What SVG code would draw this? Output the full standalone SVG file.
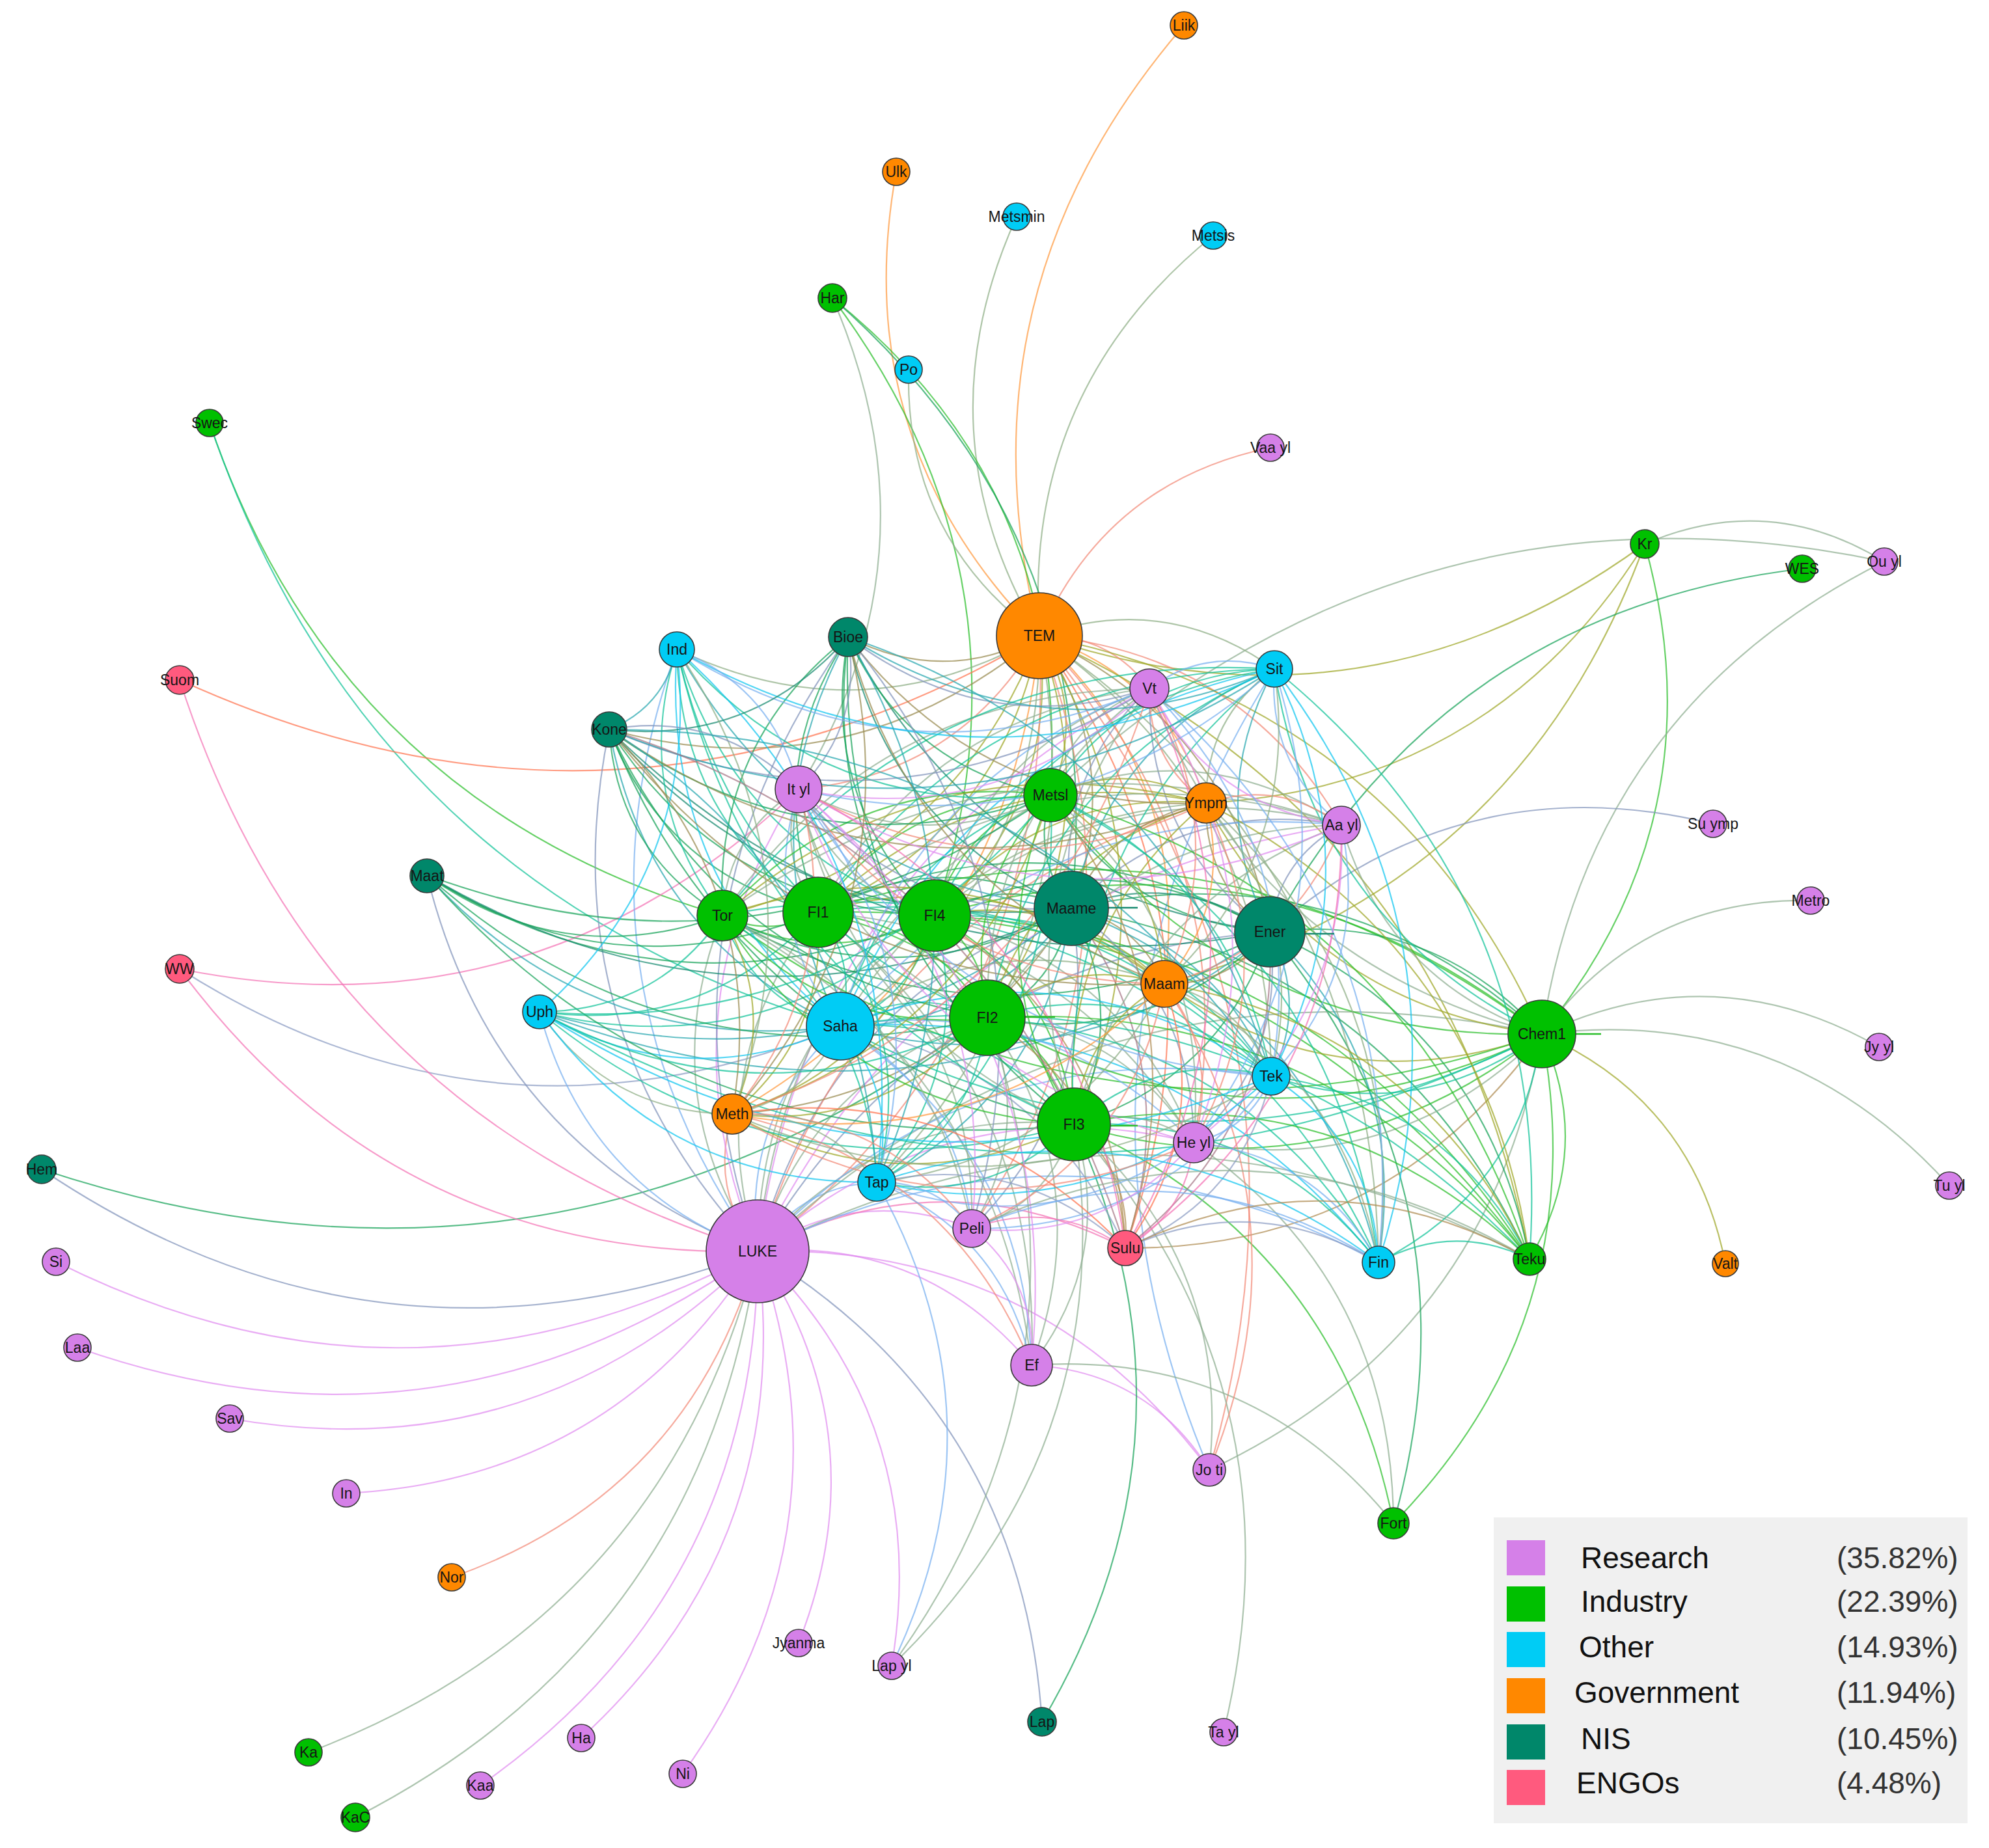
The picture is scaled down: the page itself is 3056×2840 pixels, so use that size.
<svg xmlns="http://www.w3.org/2000/svg" width="3056" height="2840" viewBox="0 0 3056 2840">
<style>
.R{fill:#d580e8}.I{fill:#00c000}.O{fill:#00ccf5}.G{fill:#ff8800}.N{fill:#00876a}.E{fill:#ff5a7e}
#nodes circle{stroke:#3a3a3a;stroke-width:1.6}
#nodes text{font-family:"Liberation Sans",Arial,sans-serif;font-size:23px;text-anchor:middle;fill:#151515}
#edges use{stroke-width:2.2;stroke-opacity:.72}
#edges line{stroke-width:2.6}
.ii{stroke:#2cbf2c}.in{stroke:#19a35a}.io{stroke:#14c49a}.ig{stroke:#9fa72a}.ir{stroke:#8fae92}.ie{stroke:#b08d55}
.nn{stroke:#178a70}.no{stroke:#2aa8b0}.ng{stroke:#9a8c52}.nr{stroke:#8294bb}.ne{stroke:#a87888}
.oo{stroke:#12c6f0}.og{stroke:#8fae86}.or{stroke:#78b0f0}.oe{stroke:#8c9cc4}
.gg{stroke:#ff9a40}.gr{stroke:#f28a78}.ge{stroke:#ff7450}
.rr{stroke:#e08ef0}.re{stroke:#f474b6}
#legend text{font-family:"Liberation Sans",Arial,sans-serif;font-size:46px}
</style>
<defs>
<path id="c" d="M0 0Q.5-.26 1 0" fill="none" vector-effect="non-scaling-stroke"/>
</defs>
<rect width="3056" height="2840" fill="#ffffff"/>
<g id="edges">
<use href="#c" class="gg" transform="matrix(222 -938 938 222 1597 977)"/>
<use href="#c" class="gg" transform="matrix(-220 -713 713 -220 1597 977)"/>
<use href="#c" class="og" transform="matrix(-35 -644 644 -35 1597 977)"/>
<use href="#c" class="og" transform="matrix(267 -615 615 267 1597 977)"/>
<use href="#c" class="ii" transform="matrix(335 764 -764 335 1279 458)"/>
<use href="#c" class="in" transform="matrix(367 938 -938 367 1279 458)"/>
<use href="#c" class="ii" transform="matrix(157 949 -949 157 1279 458)"/>
<use href="#c" class="ir" transform="matrix(-52 755 -755 -52 1279 458)"/>
<use href="#c" class="og" transform="matrix(-201 -409 409 -201 1597 977)"/>
<use href="#c" class="ii" transform="matrix(-788 -757 757 -788 1110 1407)"/>
<use href="#c" class="io" transform="matrix(-969 -927 927 -969 1291 1577)"/>
<use href="#c" class="gr" transform="matrix(355 -289 289 355 1597 977)"/>
<use href="#c" class="ig" transform="matrix(-930 141 -141 -930 2527 836)"/>
<use href="#c" class="ig" transform="matrix(-674 398 -398 -674 2527 836)"/>
<use href="#c" class="ig" transform="matrix(-738 676 -676 -738 2527 836)"/>
<use href="#c" class="ii" transform="matrix(-158 753 -753 -158 2527 836)"/>
<use href="#c" class="ir" transform="matrix(368 27 -27 368 2527 836)"/>
<use href="#c" class="ir" transform="matrix(1281 -359 359 1281 1614 1222)"/>
<use href="#c" class="ir" transform="matrix(526 -726 726 526 2369 1589)"/>
<use href="#c" class="in" transform="matrix(818 -558 558 818 1951 1432)"/>
<use href="#c" class="nr" transform="matrix(681 -166 166 681 1951 1432)"/>
<use href="#c" class="ir" transform="matrix(413 -205 205 413 2369 1589)"/>
<use href="#c" class="ir" transform="matrix(518 20 -20 518 2369 1589)"/>
<use href="#c" class="ir" transform="matrix(626 233 -233 626 2369 1589)"/>
<use href="#c" class="ig" transform="matrix(282 353 -353 282 2369 1589)"/>
<use href="#c" class="ii" transform="matrix(-19 346 -346 -19 2369 1589)"/>
<use href="#c" class="ii" transform="matrix(-228 752 -752 -228 2369 1589)"/>
<use href="#c" class="rr" transform="matrix(-1078 16 -16 -1078 1164 1923)"/>
<use href="#c" class="rr" transform="matrix(-1045 148 -148 -1045 1164 1923)"/>
<use href="#c" class="rr" transform="matrix(-811 257 -257 -811 1164 1923)"/>
<use href="#c" class="rr" transform="matrix(-632 372 -372 -632 1164 1923)"/>
<use href="#c" class="gr" transform="matrix(-470 501 -501 -470 1164 1923)"/>
<use href="#c" class="ir" transform="matrix(-690 770 -770 -690 1164 1923)"/>
<use href="#c" class="ir" transform="matrix(-618 870 -870 -618 1164 1923)"/>
<use href="#c" class="rr" transform="matrix(-426 821 -821 -426 1164 1923)"/>
<use href="#c" class="rr" transform="matrix(-271 748 -748 -271 1164 1923)"/>
<use href="#c" class="rr" transform="matrix(-115 803 -803 -115 1164 1923)"/>
<use href="#c" class="rr" transform="matrix(63 602 -602 63 1164 1923)"/>
<use href="#c" class="rr" transform="matrix(206 637 -637 206 1164 1923)"/>
<use href="#c" class="nr" transform="matrix(437 723 -723 437 1164 1923)"/>
<use href="#c" class="nr" transform="matrix(-1100 -126 126 -1100 1164 1923)"/>
<use href="#c" class="in" transform="matrix(-1453 233 -233 -1453 1517 1564)"/>
<use href="#c" class="re" transform="matrix(-888 -434 434 -888 1164 1923)"/>
<use href="#c" class="re" transform="matrix(-951 276 -276 -951 1227 1213)"/>
<use href="#c" class="oe" transform="matrix(-1015 -88 88 -1015 1291 1577)"/>
<use href="#c" class="re" transform="matrix(-888 -878 878 -888 1164 1923)"/>
<use href="#c" class="ge" transform="matrix(-1321 68 -68 -1321 1597 977)"/>
<use href="#c" class="nr" transform="matrix(-508 -578 578 -508 1164 1923)"/>
<use href="#c" class="or" transform="matrix(-335 -368 368 -335 1164 1923)"/>
<use href="#c" class="nr" transform="matrix(-228 -802 802 -228 1164 1923)"/>
<use href="#c" class="or" transform="matrix(-124 -925 925 -124 1164 1923)"/>
<use href="#c" class="og" transform="matrix(-557 21 -21 -557 1597 977)"/>
<use href="#c" class="or" transform="matrix(100 -1231 1231 100 1858 2259)"/>
<use href="#c" class="gr" transform="matrix(261 1282 -1282 261 1597 977)"/>
<use href="#c" class="ir" transform="matrix(-511 670 -670 -511 2369 1589)"/>
<use href="#c" class="rr" transform="matrix(694 336 -336 694 1164 1923)"/>
<use href="#c" class="rr" transform="matrix(273 161 -161 273 1585 2098)"/>
<use href="#c" class="ir" transform="matrix(556 243 -243 556 1585 2098)"/>
<use href="#c" class="ir" transform="matrix(230 934 -934 230 1650 1728)"/>
<use href="#c" class="in" transform="matrix(-49 918 -918 -49 1650 1728)"/>
<use href="#c" class="ir" transform="matrix(-280 832 -832 -280 1650 1728)"/>
<use href="#c" class="ir" transform="matrix(-147 996 -996 -147 1517 1564)"/>
<use href="#c" class="ii" transform="matrix(491 613 -613 491 1650 1728)"/>
<use href="#c" class="in" transform="matrix(190 909 -909 190 1951 1432)"/>
<use href="#c" class="ir" transform="matrix(307 585 -585 307 1834 1756)"/>
<use href="#c" class="ie" transform="matrix(-640 329 -329 -640 2369 1589)"/>
<use href="#c" class="ng" transform="matrix(-294 2 -2 -294 1597 977)"/>
<use href="#c" class="og" transform="matrix(361 51 -51 361 1597 977)"/>
<use href="#c" class="gr" transform="matrix(169 81 -81 169 1597 977)"/>
<use href="#c" class="ng" transform="matrix(-661 144 -144 -661 1597 977)"/>
<use href="#c" class="gr" transform="matrix(-370 236 -236 -370 1597 977)"/>
<use href="#c" class="ig" transform="matrix(17 245 -245 17 1597 977)"/>
<use href="#c" class="gg" transform="matrix(256 257 -257 256 1597 977)"/>
<use href="#c" class="gr" transform="matrix(464 291 -291 464 1597 977)"/>
<use href="#c" class="ig" transform="matrix(-487 430 -430 -487 1597 977)"/>
<use href="#c" class="ig" transform="matrix(-340 425 -425 -340 1597 977)"/>
<use href="#c" class="ig" transform="matrix(-161 430 -430 -161 1597 977)"/>
<use href="#c" class="ng" transform="matrix(49 419 -419 49 1597 977)"/>
<use href="#c" class="ng" transform="matrix(354 455 -455 354 1597 977)"/>
<use href="#c" class="gg" transform="matrix(192 535 -535 192 1597 977)"/>
<use href="#c" class="og" transform="matrix(-306 600 -600 -306 1597 977)"/>
<use href="#c" class="ig" transform="matrix(-80 587 -587 -80 1597 977)"/>
<use href="#c" class="ig" transform="matrix(772 612 -612 772 1597 977)"/>
<use href="#c" class="og" transform="matrix(356 677 -677 356 1597 977)"/>
<use href="#c" class="gg" transform="matrix(-472 735 -735 -472 1597 977)"/>
<use href="#c" class="ig" transform="matrix(53 751 -751 53 1597 977)"/>
<use href="#c" class="gr" transform="matrix(237 779 -779 237 1597 977)"/>
<use href="#c" class="og" transform="matrix(-250 840 -840 -250 1597 977)"/>
<use href="#c" class="gr" transform="matrix(-104 911 -911 -104 1597 977)"/>
<use href="#c" class="gr" transform="matrix(-433 946 -946 -433 1597 977)"/>
<use href="#c" class="ge" transform="matrix(132 941 -941 132 1597 977)"/>
<use href="#c" class="og" transform="matrix(521 963 -963 521 1597 977)"/>
<use href="#c" class="ig" transform="matrix(753 958 -958 753 1597 977)"/>
<use href="#c" class="or" transform="matrix(127 -346 346 127 1164 1923)"/>
<use href="#c" class="ir" transform="matrix(-54 -516 516 -54 1164 1923)"/>
<use href="#c" class="ir" transform="matrix(93 -521 521 93 1164 1923)"/>
<use href="#c" class="ir" transform="matrix(272 -516 516 272 1164 1923)"/>
<use href="#c" class="nr" transform="matrix(482 -527 527 482 1164 1923)"/>
<use href="#c" class="ir" transform="matrix(353 -359 359 353 1164 1923)"/>
<use href="#c" class="ir" transform="matrix(486 -195 195 486 1164 1923)"/>
<use href="#c" class="gr" transform="matrix(-39 -211 211 -39 1164 1923)"/>
<use href="#c" class="or" transform="matrix(183 -106 106 183 1164 1923)"/>
<use href="#c" class="rr" transform="matrix(329 -35 35 329 1164 1923)"/>
<use href="#c" class="re" transform="matrix(565 -5 5 565 1164 1923)"/>
<use href="#c" class="rr" transform="matrix(421 175 -175 421 1164 1923)"/>
<use href="#c" class="rr" transform="matrix(670 -167 167 670 1164 1923)"/>
<use href="#c" class="rr" transform="matrix(63 -710 710 63 1164 1923)"/>
<use href="#c" class="rr" transform="matrix(602 -865 865 602 1164 1923)"/>
<use href="#c" class="nr" transform="matrix(787 -491 491 787 1164 1923)"/>
<use href="#c" class="ir" transform="matrix(1205 -334 334 1205 1164 1923)"/>
<use href="#c" class="ir" transform="matrix(1186 12 -12 1186 1164 1923)"/>
<use href="#c" class="or" transform="matrix(789 -269 269 789 1164 1923)"/>
<use href="#c" class="nr" transform="matrix(139 -944 944 139 1164 1923)"/>
<use href="#c" class="ir" transform="matrix(450 -701 701 450 1164 1923)"/>
<use href="#c" class="gr" transform="matrix(689 -689 689 689 1164 1923)"/>
<use href="#c" class="rr" transform="matrix(897 -655 655 897 1164 1923)"/>
<use href="#c" class="or" transform="matrix(954 17 -17 954 1164 1923)"/>
<use href="#c" class="ii" transform="matrix(-147 5 -5 -147 1257 1402)"/>
<use href="#c" class="ii" transform="matrix(179 5 -5 179 1257 1402)"/>
<use href="#c" class="in" transform="matrix(389 -6 6 389 1257 1402)"/>
<use href="#c" class="in" transform="matrix(694 30 -30 694 1257 1402)"/>
<use href="#c" class="io" transform="matrix(34 175 -175 34 1257 1402)"/>
<use href="#c" class="ii" transform="matrix(260 162 -162 260 1257 1402)"/>
<use href="#c" class="ii" transform="matrix(393 326 -326 393 1257 1402)"/>
<use href="#c" class="ii" transform="matrix(1112 187 -187 1112 1257 1402)"/>
<use href="#c" class="ii" transform="matrix(357 -180 180 357 1257 1402)"/>
<use href="#c" class="ir" transform="matrix(-30 -189 189 -30 1257 1402)"/>
<use href="#c" class="in" transform="matrix(46 -423 423 46 1257 1402)"/>
<use href="#c" class="io" transform="matrix(-217 -404 404 -217 1257 1402)"/>
<use href="#c" class="in" transform="matrix(-321 -281 281 -321 1257 1402)"/>
<use href="#c" class="in" transform="matrix(-601 -57 57 -601 1257 1402)"/>
<use href="#c" class="io" transform="matrix(-428 153 -153 -428 1257 1402)"/>
<use href="#c" class="io" transform="matrix(696 252 -252 696 1257 1402)"/>
<use href="#c" class="ig" transform="matrix(532 110 -110 532 1257 1402)"/>
<use href="#c" class="ig" transform="matrix(596 -168 168 596 1257 1402)"/>
<use href="#c" class="ig" transform="matrix(-132 310 -310 -132 1257 1402)"/>
<use href="#c" class="io" transform="matrix(90 415 -415 90 1257 1402)"/>
<use href="#c" class="ir" transform="matrix(328 696 -696 328 1257 1402)"/>
<use href="#c" class="ir" transform="matrix(509 -344 344 509 1257 1402)"/>
<use href="#c" class="io" transform="matrix(701 -374 374 701 1257 1402)"/>
<use href="#c" class="ir" transform="matrix(804 -134 134 804 1257 1402)"/>
<use href="#c" class="ir" transform="matrix(577 354 -354 577 1257 1402)"/>
<use href="#c" class="ii" transform="matrix(1093 533 -533 1093 1257 1402)"/>
<use href="#c" class="ir" transform="matrix(236 486 -486 236 1257 1402)"/>
<use href="#c" class="in" transform="matrix(210 -11 11 210 1436 1407)"/>
<use href="#c" class="in" transform="matrix(515 25 -25 515 1436 1407)"/>
<use href="#c" class="io" transform="matrix(-145 170 -170 -145 1436 1407)"/>
<use href="#c" class="ii" transform="matrix(81 157 -157 81 1436 1407)"/>
<use href="#c" class="ii" transform="matrix(214 321 -321 214 1436 1407)"/>
<use href="#c" class="ii" transform="matrix(933 182 -182 933 1436 1407)"/>
<use href="#c" class="ii" transform="matrix(178 -185 185 178 1436 1407)"/>
<use href="#c" class="ii" transform="matrix(-326 0 0 -326 1436 1407)"/>
<use href="#c" class="in" transform="matrix(-133 -428 428 -133 1436 1407)"/>
<use href="#c" class="io" transform="matrix(-396 -409 409 -396 1436 1407)"/>
<use href="#c" class="in" transform="matrix(-500 -286 286 -500 1436 1407)"/>
<use href="#c" class="in" transform="matrix(-780 -62 62 -780 1436 1407)"/>
<use href="#c" class="io" transform="matrix(-607 148 -148 -607 1436 1407)"/>
<use href="#c" class="io" transform="matrix(517 247 -247 517 1436 1407)"/>
<use href="#c" class="ig" transform="matrix(353 105 -105 353 1436 1407)"/>
<use href="#c" class="ig" transform="matrix(417 -173 173 417 1436 1407)"/>
<use href="#c" class="io" transform="matrix(522 -379 379 522 1436 1407)"/>
<use href="#c" class="ir" transform="matrix(330 -349 349 330 1436 1407)"/>
<use href="#c" class="ir" transform="matrix(625 -139 139 625 1436 1407)"/>
<use href="#c" class="ir" transform="matrix(398 349 -349 398 1436 1407)"/>
<use href="#c" class="ig" transform="matrix(-311 305 -305 -311 1436 1407)"/>
<use href="#c" class="io" transform="matrix(-89 410 -410 -89 1436 1407)"/>
<use href="#c" class="ir" transform="matrix(-209 -194 194 -209 1436 1407)"/>
<use href="#c" class="ii" transform="matrix(914 528 -528 914 1436 1407)"/>
<use href="#c" class="io" transform="matrix(682 533 -533 682 1436 1407)"/>
<use href="#c" class="ie" transform="matrix(293 511 -511 293 1436 1407)"/>
<use href="#c" class="nn" transform="matrix(305 36 -36 305 1646 1396)"/>
<use href="#c" class="no" transform="matrix(-355 181 -181 -355 1646 1396)"/>
<use href="#c" class="in" transform="matrix(-129 168 -168 -129 1646 1396)"/>
<use href="#c" class="in" transform="matrix(4 332 -332 4 1646 1396)"/>
<use href="#c" class="in" transform="matrix(723 193 -193 723 1646 1396)"/>
<use href="#c" class="in" transform="matrix(-32 -174 174 -32 1646 1396)"/>
<use href="#c" class="in" transform="matrix(-536 11 -11 -536 1646 1396)"/>
<use href="#c" class="nn" transform="matrix(-343 -417 417 -343 1646 1396)"/>
<use href="#c" class="no" transform="matrix(-606 -398 398 -606 1646 1396)"/>
<use href="#c" class="nn" transform="matrix(-710 -275 275 -710 1646 1396)"/>
<use href="#c" class="nn" transform="matrix(-990 -51 51 -990 1646 1396)"/>
<use href="#c" class="no" transform="matrix(-817 159 -159 -817 1646 1396)"/>
<use href="#c" class="no" transform="matrix(307 258 -258 307 1646 1396)"/>
<use href="#c" class="ng" transform="matrix(143 116 -116 143 1646 1396)"/>
<use href="#c" class="ng" transform="matrix(207 -162 162 207 1646 1396)"/>
<use href="#c" class="no" transform="matrix(312 -368 368 312 1646 1396)"/>
<use href="#c" class="nr" transform="matrix(120 -338 338 120 1646 1396)"/>
<use href="#c" class="nr" transform="matrix(415 -128 128 415 1646 1396)"/>
<use href="#c" class="nr" transform="matrix(-419 -183 183 -419 1646 1396)"/>
<use href="#c" class="nr" transform="matrix(188 360 -360 188 1646 1396)"/>
<use href="#c" class="ng" transform="matrix(-521 316 -316 -521 1646 1396)"/>
<use href="#c" class="no" transform="matrix(-299 421 -421 -299 1646 1396)"/>
<use href="#c" class="in" transform="matrix(704 539 -539 704 1646 1396)"/>
<use href="#c" class="no" transform="matrix(472 544 -544 472 1646 1396)"/>
<use href="#c" class="ne" transform="matrix(83 522 -522 83 1646 1396)"/>
<use href="#c" class="nr" transform="matrix(-153 492 -492 -153 1646 1396)"/>
<use href="#c" class="in" transform="matrix(418 157 -157 418 1951 1432)"/>
<use href="#c" class="no" transform="matrix(2 222 -222 2 1951 1432)"/>
<use href="#c" class="no" transform="matrix(167 508 -508 167 1951 1432)"/>
<use href="#c" class="in" transform="matrix(399 503 -503 399 1951 1432)"/>
<use href="#c" class="in" transform="matrix(-434 132 -132 -434 1951 1432)"/>
<use href="#c" class="in" transform="matrix(-301 296 -296 -301 1951 1432)"/>
<use href="#c" class="no" transform="matrix(-660 145 -145 -660 1951 1432)"/>
<use href="#c" class="in" transform="matrix(-841 -25 25 -841 1951 1432)"/>
<use href="#c" class="in" transform="matrix(-337 -210 210 -337 1951 1432)"/>
<use href="#c" class="ng" transform="matrix(-98 -198 198 -98 1951 1432)"/>
<use href="#c" class="nr" transform="matrix(110 -164 164 110 1951 1432)"/>
<use href="#c" class="no" transform="matrix(7 -404 404 7 1951 1432)"/>
<use href="#c" class="nr" transform="matrix(-185 -374 374 -185 1951 1432)"/>
<use href="#c" class="ng" transform="matrix(-162 80 -80 -162 1951 1432)"/>
<use href="#c" class="nr" transform="matrix(-117 324 -324 -117 1951 1432)"/>
<use href="#c" class="nn" transform="matrix(-648 -453 453 -648 1951 1432)"/>
<use href="#c" class="nn" transform="matrix(-1015 -311 311 -1015 1951 1432)"/>
<use href="#c" class="no" transform="matrix(-1122 123 -123 -1122 1951 1432)"/>
<use href="#c" class="ne" transform="matrix(-222 486 -486 -222 1951 1432)"/>
<use href="#c" class="io" transform="matrix(-416 65 -65 -416 2369 1589)"/>
<use href="#c" class="io" transform="matrix(-251 351 -351 -251 2369 1589)"/>
<use href="#c" class="ii" transform="matrix(-852 -25 25 -852 2369 1589)"/>
<use href="#c" class="ii" transform="matrix(-719 139 -139 -719 2369 1589)"/>
<use href="#c" class="io" transform="matrix(-1078 -12 12 -1078 2369 1589)"/>
<use href="#c" class="ii" transform="matrix(-755 -367 367 -755 2369 1589)"/>
<use href="#c" class="ig" transform="matrix(-516 -355 355 -516 2369 1589)"/>
<use href="#c" class="ig" transform="matrix(-580 -77 77 -580 2369 1589)"/>
<use href="#c" class="ir" transform="matrix(-308 -321 321 -308 2369 1589)"/>
<use href="#c" class="io" transform="matrix(-411 -561 561 -411 2369 1589)"/>
<use href="#c" class="ir" transform="matrix(-535 167 -167 -535 2369 1589)"/>
<use href="#c" class="ii" transform="matrix(-1259 -182 182 -1259 2369 1589)"/>
<use href="#c" class="io" transform="matrix(-1540 -34 34 -1540 2369 1589)"/>
<use href="#c" class="ir" transform="matrix(-603 -531 531 -603 2369 1589)"/>
<use href="#c" class="io" transform="matrix(226 -13 13 226 1291 1577)"/>
<use href="#c" class="io" transform="matrix(359 151 -151 359 1291 1577)"/>
<use href="#c" class="io" transform="matrix(-181 -170 170 -181 1291 1577)"/>
<use href="#c" class="oo" transform="matrix(56 240 -240 56 1291 1577)"/>
<use href="#c" class="og" transform="matrix(-166 135 -135 -166 1291 1577)"/>
<use href="#c" class="or" transform="matrix(202 311 -311 202 1291 1577)"/>
<use href="#c" class="oo" transform="matrix(662 77 -77 662 1291 1577)"/>
<use href="#c" class="oo" transform="matrix(827 363 -363 827 1291 1577)"/>
<use href="#c" class="or" transform="matrix(543 179 -179 543 1291 1577)"/>
<use href="#c" class="og" transform="matrix(498 -65 65 498 1291 1577)"/>
<use href="#c" class="og" transform="matrix(562 -343 343 562 1291 1577)"/>
<use href="#c" class="io" transform="matrix(323 -355 355 323 1291 1577)"/>
<use href="#c" class="or" transform="matrix(-64 -364 364 -64 1291 1577)"/>
<use href="#c" class="no" transform="matrix(12 -598 598 12 1291 1577)"/>
<use href="#c" class="oo" transform="matrix(-251 -579 579 -251 1291 1577)"/>
<use href="#c" class="no" transform="matrix(-355 -456 456 -355 1291 1577)"/>
<use href="#c" class="no" transform="matrix(-635 -232 232 -635 1291 1577)"/>
<use href="#c" class="oo" transform="matrix(-462 -22 22 -462 1291 1577)"/>
<use href="#c" class="oe" transform="matrix(438 341 -341 438 1291 1577)"/>
<use href="#c" class="or" transform="matrix(294 521 -521 294 1291 1577)"/>
<use href="#c" class="io" transform="matrix(1059 358 -358 1059 1291 1577)"/>
<use href="#c" class="or" transform="matrix(770 -309 309 770 1291 1577)"/>
<use href="#c" class="or" transform="matrix(475 -519 519 475 1291 1577)"/>
<use href="#c" class="oo" transform="matrix(667 -549 549 667 1291 1577)"/>
<use href="#c" class="ii" transform="matrix(133 164 -164 133 1517 1564)"/>
<use href="#c" class="ii" transform="matrix(-407 -157 157 -407 1517 1564)"/>
<use href="#c" class="io" transform="matrix(-170 253 -253 -170 1517 1564)"/>
<use href="#c" class="ig" transform="matrix(-392 148 -148 -392 1517 1564)"/>
<use href="#c" class="ir" transform="matrix(-24 324 -324 -24 1517 1564)"/>
<use href="#c" class="io" transform="matrix(436 90 -90 436 1517 1564)"/>
<use href="#c" class="io" transform="matrix(601 376 -376 601 1517 1564)"/>
<use href="#c" class="ir" transform="matrix(317 192 -192 317 1517 1564)"/>
<use href="#c" class="ig" transform="matrix(272 -52 52 272 1517 1564)"/>
<use href="#c" class="ig" transform="matrix(336 -330 330 336 1517 1564)"/>
<use href="#c" class="ii" transform="matrix(97 -342 342 97 1517 1564)"/>
<use href="#c" class="ir" transform="matrix(-290 -351 351 -290 1517 1564)"/>
<use href="#c" class="in" transform="matrix(-214 -585 585 -214 1517 1564)"/>
<use href="#c" class="io" transform="matrix(-477 -566 566 -477 1517 1564)"/>
<use href="#c" class="in" transform="matrix(-581 -443 443 -581 1517 1564)"/>
<use href="#c" class="in" transform="matrix(-861 -219 219 -861 1517 1564)"/>
<use href="#c" class="io" transform="matrix(-688 -9 9 -688 1517 1564)"/>
<use href="#c" class="ie" transform="matrix(212 354 -354 212 1517 1564)"/>
<use href="#c" class="ir" transform="matrix(68 534 -534 68 1517 1564)"/>
<use href="#c" class="ii" transform="matrix(833 371 -371 833 1517 1564)"/>
<use href="#c" class="io" transform="matrix(441 -536 536 441 1517 1564)"/>
<use href="#c" class="ir" transform="matrix(249 -506 506 249 1517 1564)"/>
<use href="#c" class="ir" transform="matrix(544 -296 296 544 1517 1564)"/>
<use href="#c" class="ii" transform="matrix(-540 -321 321 -540 1650 1728)"/>
<use href="#c" class="io" transform="matrix(-303 89 -89 -303 1650 1728)"/>
<use href="#c" class="ig" transform="matrix(-525 -16 16 -525 1650 1728)"/>
<use href="#c" class="ir" transform="matrix(-157 160 -160 -157 1650 1728)"/>
<use href="#c" class="io" transform="matrix(303 -74 74 303 1650 1728)"/>
<use href="#c" class="io" transform="matrix(468 212 -212 468 1650 1728)"/>
<use href="#c" class="ir" transform="matrix(184 28 -28 184 1650 1728)"/>
<use href="#c" class="ig" transform="matrix(139 -216 216 139 1650 1728)"/>
<use href="#c" class="ig" transform="matrix(203 -494 494 203 1650 1728)"/>
<use href="#c" class="ii" transform="matrix(-36 -506 506 -36 1650 1728)"/>
<use href="#c" class="ir" transform="matrix(-423 -515 515 -423 1650 1728)"/>
<use href="#c" class="in" transform="matrix(-347 -749 749 -347 1650 1728)"/>
<use href="#c" class="io" transform="matrix(-610 -730 730 -610 1650 1728)"/>
<use href="#c" class="in" transform="matrix(-714 -607 607 -714 1650 1728)"/>
<use href="#c" class="in" transform="matrix(-994 -383 383 -994 1650 1728)"/>
<use href="#c" class="io" transform="matrix(-821 -173 173 -821 1650 1728)"/>
<use href="#c" class="ie" transform="matrix(79 190 -190 79 1650 1728)"/>
<use href="#c" class="ir" transform="matrix(-65 370 -370 -65 1650 1728)"/>
<use href="#c" class="ii" transform="matrix(700 207 -207 700 1650 1728)"/>
<use href="#c" class="io" transform="matrix(308 -700 700 308 1650 1728)"/>
<use href="#c" class="ir" transform="matrix(116 -670 670 116 1650 1728)"/>
<use href="#c" class="ir" transform="matrix(411 -460 460 411 1650 1728)"/>
<use href="#c" class="ir" transform="matrix(208 531 -531 208 1650 1728)"/>
<use href="#c" class="ir" transform="matrix(117 -194 194 117 1110 1407)"/>
<use href="#c" class="in" transform="matrix(193 -428 428 193 1110 1407)"/>
<use href="#c" class="io" transform="matrix(-70 -409 409 -70 1110 1407)"/>
<use href="#c" class="in" transform="matrix(-174 -286 286 -174 1110 1407)"/>
<use href="#c" class="in" transform="matrix(-454 -62 62 -454 1110 1407)"/>
<use href="#c" class="io" transform="matrix(-281 148 -148 -281 1110 1407)"/>
<use href="#c" class="ig" transform="matrix(15 305 -305 15 1110 1407)"/>
<use href="#c" class="io" transform="matrix(237 410 -410 237 1110 1407)"/>
<use href="#c" class="ii" transform="matrix(504 -185 185 504 1110 1407)"/>
<use href="#c" class="ig" transform="matrix(743 -173 173 743 1110 1407)"/>
<use href="#c" class="ig" transform="matrix(679 105 -105 679 1110 1407)"/>
<use href="#c" class="io" transform="matrix(843 247 -247 843 1110 1407)"/>
<use href="#c" class="ir" transform="matrix(475 691 -691 475 1110 1407)"/>
<use href="#c" class="ir" transform="matrix(383 481 -481 383 1110 1407)"/>
<use href="#c" class="ir" transform="matrix(656 -349 349 656 1110 1407)"/>
<use href="#c" class="io" transform="matrix(848 -379 379 848 1110 1407)"/>
<use href="#c" class="ir" transform="matrix(951 -139 139 951 1110 1407)"/>
<use href="#c" class="ir" transform="matrix(-387 -9 9 -387 1614 1222)"/>
<use href="#c" class="ig" transform="matrix(239 12 -12 239 1614 1222)"/>
<use href="#c" class="ir" transform="matrix(447 46 -46 447 1614 1222)"/>
<use href="#c" class="ir" transform="matrix(152 -164 164 152 1614 1222)"/>
<use href="#c" class="io" transform="matrix(344 -194 194 344 1614 1222)"/>
<use href="#c" class="in" transform="matrix(-311 -243 243 -311 1614 1222)"/>
<use href="#c" class="io" transform="matrix(-574 -224 224 -574 1614 1222)"/>
<use href="#c" class="in" transform="matrix(-678 -101 101 -678 1614 1222)"/>
<use href="#c" class="in" transform="matrix(-958 123 -123 -958 1614 1222)"/>
<use href="#c" class="ig" transform="matrix(175 290 -290 175 1614 1222)"/>
<use href="#c" class="io" transform="matrix(339 432 -432 339 1614 1222)"/>
<use href="#c" class="io" transform="matrix(-785 333 -333 -785 1614 1222)"/>
<use href="#c" class="ig" transform="matrix(-489 490 -490 -489 1614 1222)"/>
<use href="#c" class="io" transform="matrix(-267 595 -595 -267 1614 1222)"/>
<use href="#c" class="ir" transform="matrix(220 534 -534 220 1614 1222)"/>
<use href="#c" class="ii" transform="matrix(736 713 -713 736 1614 1222)"/>
<use href="#c" class="io" transform="matrix(504 718 -718 504 1614 1222)"/>
<use href="#c" class="ie" transform="matrix(115 696 -696 115 1614 1222)"/>
<use href="#c" class="gr" transform="matrix(208 34 -34 208 1853 1234)"/>
<use href="#c" class="gr" transform="matrix(-87 -176 176 -87 1853 1234)"/>
<use href="#c" class="og" transform="matrix(105 -206 206 105 1853 1234)"/>
<use href="#c" class="gr" transform="matrix(-626 -21 21 -626 1853 1234)"/>
<use href="#c" class="gg" transform="matrix(-64 278 -278 -64 1853 1234)"/>
<use href="#c" class="og" transform="matrix(100 420 -420 100 1853 1234)"/>
<use href="#c" class="gr" transform="matrix(-19 522 -522 -19 1853 1234)"/>
<use href="#c" class="ng" transform="matrix(-917 -113 113 -917 1853 1234)"/>
<use href="#c" class="ng" transform="matrix(-550 -255 255 -550 1853 1234)"/>
<use href="#c" class="og" transform="matrix(265 706 -706 265 1853 1234)"/>
<use href="#c" class="ig" transform="matrix(497 701 -701 497 1853 1234)"/>
<use href="#c" class="rr" transform="matrix(-834 -55 55 -834 2061 1268)"/>
<use href="#c" class="rr" transform="matrix(-295 -210 210 -295 2061 1268)"/>
<use href="#c" class="or" transform="matrix(-103 -240 240 -103 2061 1268)"/>
<use href="#c" class="gr" transform="matrix(-272 244 -244 -272 2061 1268)"/>
<use href="#c" class="or" transform="matrix(-108 386 -386 -108 2061 1268)"/>
<use href="#c" class="rr" transform="matrix(-227 488 -488 -227 2061 1268)"/>
<use href="#c" class="re" transform="matrix(-332 650 -650 -332 2061 1268)"/>
<use href="#c" class="or" transform="matrix(192 -30 30 192 1766 1058)"/>
<use href="#c" class="rr" transform="matrix(-539 155 -155 -539 1766 1058)"/>
<use href="#c" class="gr" transform="matrix(23 454 -454 23 1766 1058)"/>
<use href="#c" class="or" transform="matrix(187 596 -596 187 1766 1058)"/>
<use href="#c" class="rr" transform="matrix(68 698 -698 68 1766 1058)"/>
<use href="#c" class="nr" transform="matrix(-463 -79 79 -463 1766 1058)"/>
<use href="#c" class="or" transform="matrix(-726 -60 60 -726 1766 1058)"/>
<use href="#c" class="nr" transform="matrix(-830 63 -63 -830 1766 1058)"/>
<use href="#c" class="re" transform="matrix(-37 860 -860 -37 1766 1058)"/>
<use href="#c" class="or" transform="matrix(352 882 -882 352 1766 1058)"/>
<use href="#c" class="gr" transform="matrix(-641 654 -654 -641 1766 1058)"/>
<use href="#c" class="oo" transform="matrix(160 912 -912 160 1958 1028)"/>
<use href="#c" class="oo" transform="matrix(-5 626 -626 -5 1958 1028)"/>
<use href="#c" class="or" transform="matrix(-731 185 -185 -731 1958 1028)"/>
<use href="#c" class="no" transform="matrix(-655 -49 49 -655 1958 1028)"/>
<use href="#c" class="no" transform="matrix(-1022 93 -93 -1022 1958 1028)"/>
<use href="#c" class="og" transform="matrix(-169 484 -484 -169 1958 1028)"/>
<use href="#c" class="or" transform="matrix(-124 728 -728 -124 1958 1028)"/>
<use href="#c" class="io" transform="matrix(392 907 -907 392 1958 1028)"/>
<use href="#c" class="oo" transform="matrix(-918 -30 30 -918 1958 1028)"/>
<use href="#c" class="og" transform="matrix(164 142 -142 164 1789 1512)"/>
<use href="#c" class="gr" transform="matrix(45 244 -244 45 1789 1512)"/>
<use href="#c" class="gr" transform="matrix(-562 -299 299 -562 1789 1512)"/>
<use href="#c" class="gg" transform="matrix(-664 200 -200 -664 1789 1512)"/>
<use href="#c" class="og" transform="matrix(-442 305 -305 -442 1789 1512)"/>
<use href="#c" class="ge" transform="matrix(-60 406 -406 -60 1789 1512)"/>
<use href="#c" class="og" transform="matrix(329 428 -428 329 1789 1512)"/>
<use href="#c" class="ig" transform="matrix(561 423 -423 561 1789 1512)"/>
<use href="#c" class="ng" transform="matrix(-853 -391 391 -853 1789 1512)"/>
<use href="#c" class="ng" transform="matrix(-486 -533 533 -486 1789 1512)"/>
<use href="#c" class="gr" transform="matrix(69 747 -747 69 1789 1512)"/>
<use href="#c" class="gr" transform="matrix(-296 376 -376 -296 1789 1512)"/>
<use href="#c" class="oo" transform="matrix(165 286 -286 165 1953 1654)"/>
<use href="#c" class="or" transform="matrix(-119 102 -102 -119 1953 1654)"/>
<use href="#c" class="io" transform="matrix(397 281 -281 397 1953 1654)"/>
<use href="#c" class="oo" transform="matrix(-606 163 -163 -606 1953 1654)"/>
<use href="#c" class="og" transform="matrix(-828 58 -58 -828 1953 1654)"/>
<use href="#c" class="oe" transform="matrix(-224 264 -264 -224 1953 1654)"/>
<use href="#c" class="oo" transform="matrix(-1124 -99 99 -1124 1953 1654)"/>
<use href="#c" class="or" transform="matrix(-726 -441 441 -726 1953 1654)"/>
<use href="#c" class="or" transform="matrix(-460 234 -234 -460 1953 1654)"/>
<use href="#c" class="re" transform="matrix(-105 162 -162 -105 1834 1756)"/>
<use href="#c" class="or" transform="matrix(284 184 -184 284 1834 1756)"/>
<use href="#c" class="rr" transform="matrix(-341 132 -132 -341 1834 1756)"/>
<use href="#c" class="or" transform="matrix(-487 61 -61 -487 1834 1756)"/>
<use href="#c" class="rr" transform="matrix(-607 -543 543 -607 1834 1756)"/>
<use href="#c" class="gr" transform="matrix(-709 -44 44 -709 1834 1756)"/>
<use href="#c" class="nr" transform="matrix(-76 234 -234 -76 1303 979)"/>
<use href="#c" class="no" transform="matrix(44 838 -838 44 1303 979)"/>
<use href="#c" class="ng" transform="matrix(-178 733 -733 -178 1303 979)"/>
<use href="#c" class="nr" transform="matrix(190 909 -909 190 1303 979)"/>
<use href="#c" class="no" transform="matrix(650 675 -675 650 1303 979)"/>
<use href="#c" class="nn" transform="matrix(-367 142 -142 -367 1303 979)"/>
<use href="#c" class="og" transform="matrix(85 714 -714 85 1040 998)"/>
<use href="#c" class="oo" transform="matrix(307 819 -819 307 1040 998)"/>
<use href="#c" class="or" transform="matrix(187 215 -215 187 1040 998)"/>
<use href="#c" class="no" transform="matrix(-104 123 -123 -104 1040 998)"/>
<use href="#c" class="oo" transform="matrix(-211 557 -557 -211 1040 998)"/>
<use href="#c" class="ng" transform="matrix(189 591 -591 189 936 1121)"/>
<use href="#c" class="no" transform="matrix(411 696 -696 411 936 1121)"/>
<use href="#c" class="nr" transform="matrix(291 92 -92 291 936 1121)"/>
<use href="#c" class="no" transform="matrix(1017 533 -533 1017 936 1121)"/>
<use href="#c" class="ne" transform="matrix(793 797 -797 793 936 1121)"/>
<use href="#c" class="gr" transform="matrix(-102 499 -499 -102 1227 1213)"/>
<use href="#c" class="or" transform="matrix(120 604 -604 120 1227 1213)"/>
<use href="#c" class="rr" transform="matrix(266 675 -675 266 1227 1213)"/>
<use href="#c" class="re" transform="matrix(502 705 -705 502 1227 1213)"/>
<use href="#c" class="rr" transform="matrix(358 885 -885 358 1227 1213)"/>
<use href="#c" class="og" transform="matrix(222 105 -105 222 1125 1712)"/>
<use href="#c" class="gr" transform="matrix(368 176 -176 368 1125 1712)"/>
<use href="#c" class="gr" transform="matrix(460 386 -386 460 1125 1712)"/>
<use href="#c" class="ge" transform="matrix(604 206 -206 604 1125 1712)"/>
<use href="#c" class="og" transform="matrix(-296 -157 157 -296 1125 1712)"/>
<use href="#c" class="or" transform="matrix(146 71 -71 146 1347 1817)"/>
<use href="#c" class="oe" transform="matrix(382 101 -101 382 1347 1817)"/>
<use href="#c" class="oo" transform="matrix(771 123 -123 771 1347 1817)"/>
<use href="#c" class="or" transform="matrix(238 281 -281 238 1347 1817)"/>
<use href="#c" class="or" transform="matrix(23 743 -743 23 1347 1817)"/>
<use href="#c" class="oo" transform="matrix(-518 -262 262 -518 1347 1817)"/>
<use href="#c" class="re" transform="matrix(236 30 -30 236 1493 1888)"/>
<use href="#c" class="rr" transform="matrix(92 210 -210 92 1493 1888)"/>
<use href="#c" class="or" transform="matrix(625 52 -52 625 1493 1888)"/>
<use href="#c" class="ir" transform="matrix(857 47 -47 857 1493 1888)"/>
<use href="#c" class="oe" transform="matrix(389 22 -22 389 1729 1918)"/>
<use href="#c" class="ie" transform="matrix(621 17 -17 621 1729 1918)"/>
<use href="#c" class="io" transform="matrix(232 -5 5 232 2118 1940)"/>
<line class="nn" x1="1702" y1="1395" x2="1748" y2="1395"/>
<line class="nn" x1="2004" y1="1435" x2="2050" y2="1435"/>
<line class="ii" x1="1574" y1="1563" x2="1621" y2="1563"/>
<line class="ii" x1="2420" y1="1589" x2="2460" y2="1589"/>
<line class="ii" x1="1705" y1="1730" x2="1748" y2="1730"/>
</g>
<g id="nodes">
<g id="n-Liik"><circle class="G" cx="1819" cy="39" r="21"/><text x="1819" y="47">Liik</text></g>
<g id="n-Ulk"><circle class="G" cx="1377" cy="264" r="21"/><text x="1377" y="272">Ulk</text></g>
<g id="n-Metsmin"><circle class="O" cx="1562" cy="333" r="21"/><text x="1562" y="341">Metsmin</text></g>
<g id="n-Metsis"><circle class="O" cx="1864" cy="362" r="21"/><text x="1864" y="370">Metsis</text></g>
<g id="n-Har"><circle class="I" cx="1279" cy="458" r="22"/><text x="1279" y="466">Har</text></g>
<g id="n-Po"><circle class="O" cx="1396" cy="568" r="21"/><text x="1396" y="576">Po</text></g>
<g id="n-Swec"><circle class="I" cx="322" cy="650" r="21"/><text x="322" y="658">Swec</text></g>
<g id="n-Vaayl"><circle class="R" cx="1952" cy="688" r="21"/><text x="1952" y="696">Vaa yl</text></g>
<g id="n-Kr"><circle class="I" cx="2527" cy="836" r="22"/><text x="2527" y="844">Kr</text></g>
<g id="n-WES"><circle class="I" cx="2769" cy="874" r="21"/><text x="2769" y="882">WES</text></g>
<g id="n-Ouyl"><circle class="R" cx="2895" cy="863" r="21"/><text x="2895" y="871">Ou yl</text></g>
<g id="n-TEM"><circle class="G" cx="1597" cy="977" r="66"/><text x="1597" y="985">TEM</text></g>
<g id="n-Bioe"><circle class="N" cx="1303" cy="979" r="30"/><text x="1303" y="987">Bioe</text></g>
<g id="n-Ind"><circle class="O" cx="1040" cy="998" r="27"/><text x="1040" y="1006">Ind</text></g>
<g id="n-Sit"><circle class="O" cx="1958" cy="1028" r="28"/><text x="1958" y="1036">Sit</text></g>
<g id="n-Vt"><circle class="R" cx="1766" cy="1058" r="30"/><text x="1766" y="1066">Vt</text></g>
<g id="n-Suom"><circle class="E" cx="276" cy="1045" r="22"/><text x="276" y="1053">Suom</text></g>
<g id="n-Kone"><circle class="N" cx="936" cy="1121" r="27"/><text x="936" y="1129">Kone</text></g>
<g id="n-Ityl"><circle class="R" cx="1227" cy="1213" r="36"/><text x="1227" y="1221">It yl</text></g>
<g id="n-Metsl"><circle class="I" cx="1614" cy="1222" r="41"/><text x="1614" y="1230">Metsl</text></g>
<g id="n-Ympm"><circle class="G" cx="1853" cy="1234" r="31"/><text x="1853" y="1242">Ympm</text></g>
<g id="n-Aayl"><circle class="R" cx="2061" cy="1268" r="29"/><text x="2061" y="1276">Aa yl</text></g>
<g id="n-Suymp"><circle class="R" cx="2632" cy="1266" r="21"/><text x="2632" y="1274">Su ymp</text></g>
<g id="n-Maat"><circle class="N" cx="656" cy="1346" r="26"/><text x="656" y="1354">Maat</text></g>
<g id="n-Metro"><circle class="R" cx="2782" cy="1384" r="21"/><text x="2782" y="1392">Metro</text></g>
<g id="n-Tor"><circle class="I" cx="1110" cy="1407" r="39"/><text x="1110" y="1415">Tor</text></g>
<g id="n-FI1"><circle class="I" cx="1257" cy="1402" r="54"/><text x="1257" y="1410">FI1</text></g>
<g id="n-FI4"><circle class="I" cx="1436" cy="1407" r="55"/><text x="1436" y="1415">FI4</text></g>
<g id="n-Maame"><circle class="N" cx="1646" cy="1396" r="57"/><text x="1646" y="1404">Maame</text></g>
<g id="n-Ener"><circle class="N" cx="1951" cy="1432" r="54"/><text x="1951" y="1440">Ener</text></g>
<g id="n-WW"><circle class="E" cx="276" cy="1489" r="22"/><text x="276" y="1497">WW</text></g>
<g id="n-Maam"><circle class="G" cx="1789" cy="1512" r="36"/><text x="1789" y="1520">Maam</text></g>
<g id="n-Uph"><circle class="O" cx="829" cy="1555" r="26"/><text x="829" y="1563">Uph</text></g>
<g id="n-Saha"><circle class="O" cx="1291" cy="1577" r="52"/><text x="1291" y="1585">Saha</text></g>
<g id="n-FI2"><circle class="I" cx="1517" cy="1564" r="58"/><text x="1517" y="1572">FI2</text></g>
<g id="n-Chem1"><circle class="I" cx="2369" cy="1589" r="52"/><text x="2369" y="1597">Chem1</text></g>
<g id="n-Jyyl"><circle class="R" cx="2887" cy="1609" r="21"/><text x="2887" y="1617">Jy yl</text></g>
<g id="n-Tek"><circle class="O" cx="1953" cy="1654" r="29"/><text x="1953" y="1662">Tek</text></g>
<g id="n-Meth"><circle class="G" cx="1125" cy="1712" r="31"/><text x="1125" y="1720">Meth</text></g>
<g id="n-FI3"><circle class="I" cx="1650" cy="1728" r="56"/><text x="1650" y="1736">FI3</text></g>
<g id="n-Heyl"><circle class="R" cx="1834" cy="1756" r="31"/><text x="1834" y="1764">He yl</text></g>
<g id="n-Hem"><circle class="N" cx="64" cy="1797" r="22"/><text x="64" y="1805">Hem</text></g>
<g id="n-Tuyl"><circle class="R" cx="2995" cy="1822" r="21"/><text x="2995" y="1830">Tu yl</text></g>
<g id="n-Tap"><circle class="O" cx="1347" cy="1817" r="29"/><text x="1347" y="1825">Tap</text></g>
<g id="n-Peli"><circle class="R" cx="1493" cy="1888" r="29"/><text x="1493" y="1896">Peli</text></g>
<g id="n-LUKE"><circle class="R" cx="1164" cy="1923" r="79"/><text x="1164" y="1931">LUKE</text></g>
<g id="n-Sulu"><circle class="E" cx="1729" cy="1918" r="27"/><text x="1729" y="1926">Sulu</text></g>
<g id="n-Fin"><circle class="O" cx="2118" cy="1940" r="25"/><text x="2118" y="1948">Fin</text></g>
<g id="n-Teku"><circle class="I" cx="2350" cy="1935" r="25"/><text x="2350" y="1943">Teku</text></g>
<g id="n-Valt"><circle class="G" cx="2651" cy="1942" r="20"/><text x="2651" y="1950">Valt</text></g>
<g id="n-Si"><circle class="R" cx="86" cy="1939" r="21"/><text x="86" y="1947">Si</text></g>
<g id="n-Ef"><circle class="R" cx="1585" cy="2098" r="32"/><text x="1585" y="2106">Ef</text></g>
<g id="n-Laa"><circle class="R" cx="119" cy="2071" r="21"/><text x="119" y="2079">Laa</text></g>
<g id="n-Sav"><circle class="R" cx="353" cy="2180" r="21"/><text x="353" y="2188">Sav</text></g>
<g id="n-Joti"><circle class="R" cx="1858" cy="2259" r="25"/><text x="1858" y="2267">Jo ti</text></g>
<g id="n-In"><circle class="R" cx="532" cy="2295" r="21"/><text x="532" y="2303">In</text></g>
<g id="n-Fort"><circle class="I" cx="2141" cy="2341" r="24"/><text x="2141" y="2349">Fort</text></g>
<g id="n-Nor"><circle class="G" cx="694" cy="2424" r="21"/><text x="694" y="2432">Nor</text></g>
<g id="n-Jyanma"><circle class="R" cx="1227" cy="2525" r="21"/><text x="1227" y="2533">Jyanma</text></g>
<g id="n-Lapyl"><circle class="R" cx="1370" cy="2560" r="21"/><text x="1370" y="2568">Lap yl</text></g>
<g id="n-Lap"><circle class="N" cx="1601" cy="2646" r="22"/><text x="1601" y="2654">Lap</text></g>
<g id="n-Tayl"><circle class="R" cx="1880" cy="2662" r="21"/><text x="1880" y="2670">Ta yl</text></g>
<g id="n-Ka"><circle class="I" cx="474" cy="2693" r="21"/><text x="474" y="2701">Ka</text></g>
<g id="n-Ha"><circle class="R" cx="893" cy="2671" r="21"/><text x="893" y="2679">Ha</text></g>
<g id="n-Ni"><circle class="R" cx="1049" cy="2726" r="21"/><text x="1049" y="2734">Ni</text></g>
<g id="n-Kaa"><circle class="R" cx="738" cy="2744" r="21"/><text x="738" y="2752">Kaa</text></g>
<g id="n-KaC"><circle class="I" cx="546" cy="2793" r="22"/><text x="546" y="2801">KaC</text></g>
</g>
<g id="legend">
<rect x="2295" y="2332" width="728" height="470" fill="#f0f0f0"/>
<rect class="R" x="2315" y="2367" width="59" height="54"/>
<rect class="I" x="2315" y="2438" width="59" height="54"/>
<rect class="O" x="2315" y="2508" width="59" height="54"/>
<rect class="G" x="2315" y="2579" width="59" height="54"/>
<rect class="N" x="2315" y="2650" width="59" height="54"/>
<rect class="E" x="2315" y="2720" width="59" height="54"/>
<text x="2429" y="2410" fill="#111">Research</text>
<text x="2429" y="2477" fill="#111">Industry</text>
<text x="2426" y="2547" fill="#111">Other</text>
<text x="2419" y="2617" fill="#111">Government</text>
<text x="2429" y="2688" fill="#111">NIS</text>
<text x="2422" y="2756" fill="#111">ENGOs</text>
<text x="2822" y="2410" fill="#333">(35.82%)</text>
<text x="2822" y="2477" fill="#333">(22.39%)</text>
<text x="2822" y="2547" fill="#333">(14.93%)</text>
<text x="2822" y="2617" fill="#333">(11.94%)</text>
<text x="2822" y="2688" fill="#333">(10.45%)</text>
<text x="2822" y="2756" fill="#333">(4.48%)</text>
</g>
</svg>
